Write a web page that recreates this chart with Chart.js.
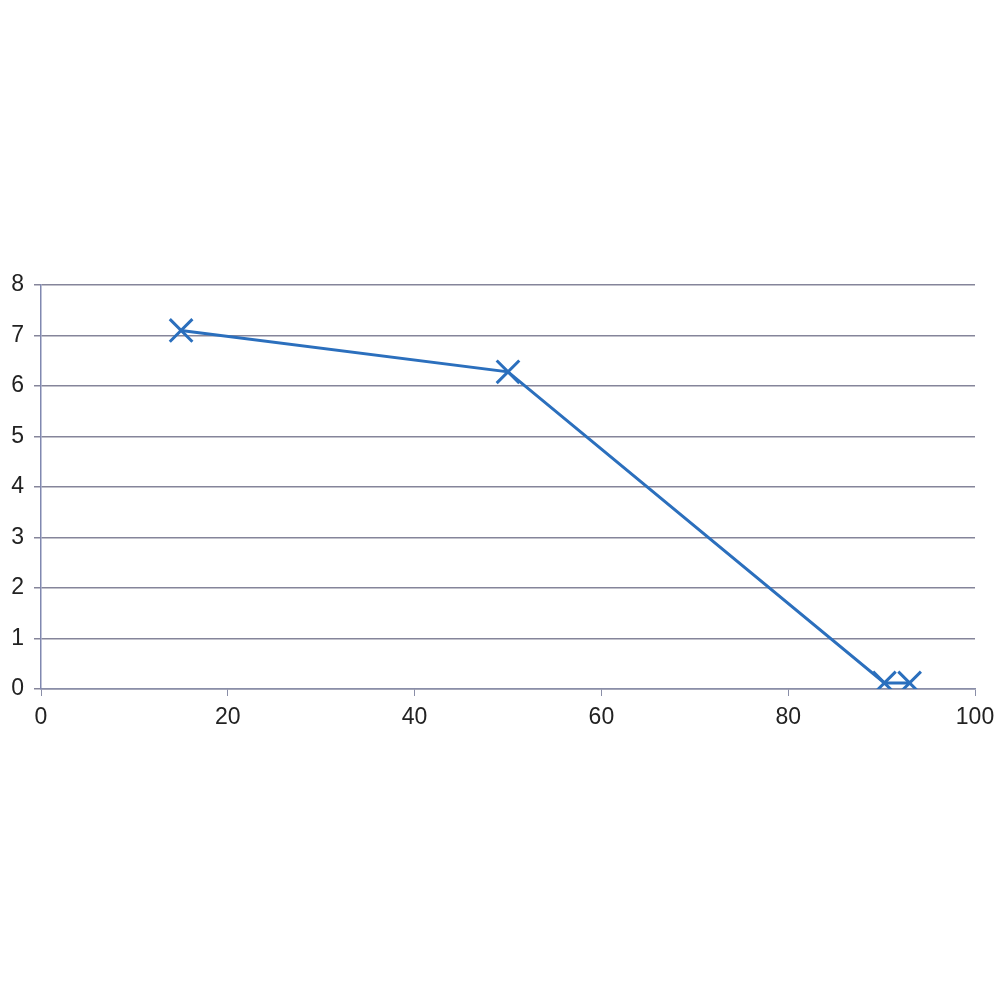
<!DOCTYPE html>
<html>
<head>
<meta charset="utf-8">
<script src="https://cdn.jsdelivr.net/npm/chart.js@4/dist/chart.umd.min.js"></script>
<style>
	html, body { margin: 0; padding: 0; background: #fff; }
	#wrap { width: 1000px; height: 1000px; }
</style>
</head>
<body>
<div id="wrap"><canvas id="lineChart" width="1000" height="1000"></canvas></div>
<script>
// values
const xValues = [15, 50, 90.3, 93];
const yValues = [7.1, 6.28, 0.12, 0.12];
const xTicks = [0, 20, 40, 60, 80, 100];
const yTicks = [0, 1, 2, 3, 4, 5, 6, 7, 8];

const points = xValues.map((x, i) => ({ x: x, y: yValues[i] }));

const ctx = document.getElementById("lineChart").getContext("2d");
new Chart(ctx, {
	type: "scatter",
	data: {
		datasets: [
			{
				data: points,
				showLine: true,
				borderColor: "#2b6fbd",
				backgroundColor: "#2b6fbd",
				borderWidth: 3,
				pointStyle: "crossRot",
				pointRadius: 16,
				pointBorderWidth: 3,
				pointHoverRadius: 16,
				tension: 0,
			},
		],
	},
	options: {
		responsive: false,
		animation: false,
		layout: {
			padding: { top: 285, left: 0, right: 25, bottom: 271 },
		},
		plugins: {
			legend: { display: false },
			tooltip: { enabled: false },
		},
		scales: {
			x: {
				type: "linear",
				min: 0,
				max: 100,
				afterBuildTicks: (axis) => {
					axis.ticks = xTicks.map((v) => ({ value: v }));
				},
				afterFit: (axis) => {
					axis.height = 40;
					axis.paddingRight = 0;
					axis.paddingLeft = 0;
				},
				grid: {
					drawOnChartArea: false,
					drawTicks: true,
					tickLength: 7,
					color: "#8a8ea8",
				},
				border: { color: "#8a8ea8", width: 1.5 },
				ticks: {
					color: "#222",
					font: { family: "Liberation Sans, Arial", size: 23 },
					padding: 8,
				},
			},
			y: {
				type: "linear",
				min: 0,
				max: 8,
				afterBuildTicks: (axis) => {
					axis.ticks = yTicks.map((v) => ({ value: v }));
				},
				afterFit: (axis) => {
					axis.width = 41;
				},
				grid: {
					color: "#85859a",
					lineWidth: 1.5,
					tickLength: 7,
				},
				border: { color: "#8088b0", width: 1.5 },
				ticks: {
					color: "#222",
					font: { family: "Liberation Sans, Arial", size: 23 },
					padding: 10,
				},
			},
		},
	},
});
</script>
</body>
</html>
